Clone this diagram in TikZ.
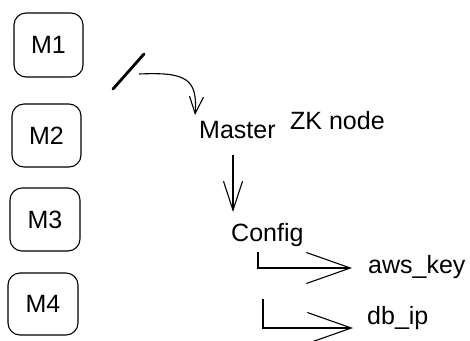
\documentclass[tikz,border=0pt]{standalone}
\usepackage{fontspec}
\setmainfont{Liberation Sans}
\usetikzlibrary{arrows.meta}
\begin{document}
\begin{tikzpicture}[x=1pt,y=-1pt,
  mbox/.style={draw,line width=1.1pt,rounded corners=12pt},
  lbl/.style={font=\fontsize{25}{28}\selectfont,inner sep=0pt},
  conn/.style={line width=1.1pt},
  bigtip/.style={-{Straight Barb[length=44pt,width=31pt,line width=1.1pt]}},
  midtip/.style={-{Straight Barb[length=29pt,width=19pt,line width=1.1pt]}},
  smalltip/.style={-{Straight Barb[length=17pt,width=14pt,line width=1.1pt]}}]
\useasboundingbox (0,0) rectangle (470,340);
% boxes
\draw[mbox] (14,13) rectangle (83,77);
\node[lbl] (m1) at (48.5,45) {M1};
\draw[mbox] (12,104) rectangle (81,167);
\node[lbl] (m2) at (46.5,135.5) {M2};
\draw[mbox] (10,188) rectangle (80,251);
\node[lbl] (m3) at (45,219.5) {M3};
\draw[mbox] (8,273) rectangle (78,335);
\node[lbl] (m4) at (43,304) {M4};
% slash
\coordinate (s1) at (113,89);
\coordinate (s2) at (144,54);
\draw[line width=2.8pt,line cap=round] (s1) -- (s2);
% texts
\node[lbl,anchor=base west] (master) at (199,138) {Master};
\node[lbl,anchor=base west] (zk) at (290,129) {ZK node};
\node[lbl,anchor=base west] (config) at (231,241) {Config};
\node[lbl,anchor=base west] (aws) at (368,273) {aws\_key};
\node[lbl,anchor=base west] (db) at (367,324) {db\_ip};
% curved arrow
\coordinate (c0) at (139,74);
\coordinate (c1) at (195,115);
\draw[conn,smalltip] (c0) .. controls (185,72) and (198,78) .. (c1);
% vertical arrow
\coordinate (v0) at (233,155);
\coordinate (v1) at (233,212);
\draw[conn,midtip] (v0) -- (v1);
% L connectors
\coordinate (a0) at (258,252);
\coordinate (a1) at (352,268);
\draw[conn,bigtip] (a0) |- (a1);
\coordinate (b0) at (263,299);
\coordinate (b1) at (353,328);
\draw[conn,bigtip] (b0) |- (b1);
\end{tikzpicture}
\end{document}
